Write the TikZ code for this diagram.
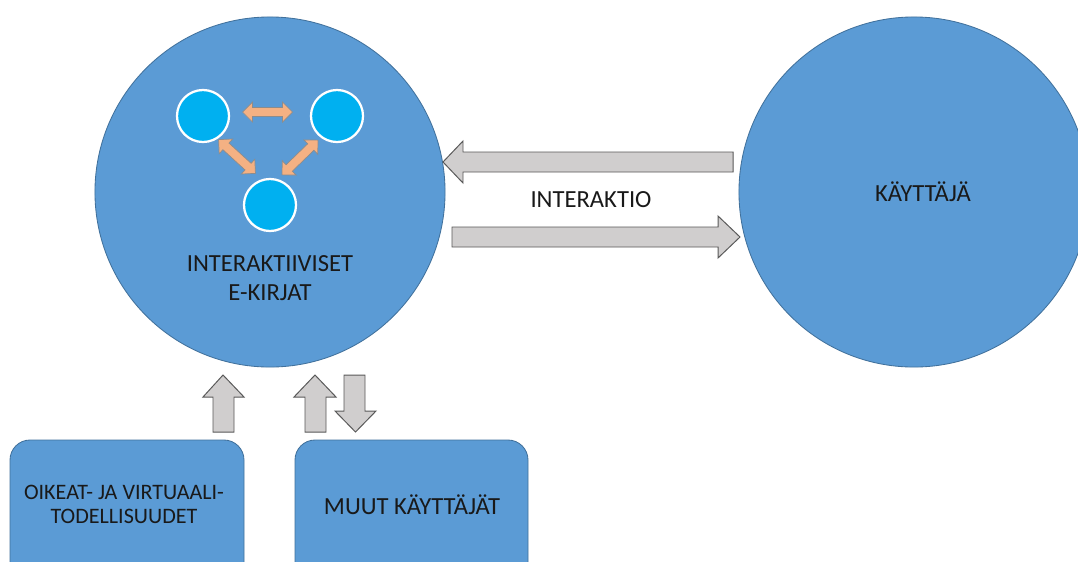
\documentclass[tikz,border=0pt]{standalone}
\usepackage{fontspec}
\setmainfont{Carlito}
\usetikzlibrary{positioning}

\definecolor{bigblue}{HTML}{5B9BD5}
\definecolor{bluebord}{HTML}{41719C}
\definecolor{smallblue}{HTML}{00B0F0}
\definecolor{grayfill}{HTML}{D0CECE}
\definecolor{graybord}{HTML}{595959}
\definecolor{orangefill}{HTML}{F4B183}
\definecolor{orangebord}{HTML}{8C8C8C}

\tikzset{
  bigcircle/.style={circle, fill=bigblue, draw=bluebord, line width=0.6pt, minimum size=8.75cm, inner sep=0pt},
  smallcircle/.style={circle, fill=smallblue, draw=white, line width=1.6pt, minimum size=1.3cm, inner sep=0pt},
  roundbox/.style={fill=bigblue, draw=bluebord, line width=0.6pt, rounded corners=0.5cm},
  blockarrow/.style={fill=grayfill, draw=graybord, line width=0.7pt},
  smallarrow/.style={fill=orangefill, draw=orangebord, line width=0.5pt},
  label/.style={font=\fontsize{17.5}{21}\selectfont, text=black!90, align=center},
  dblarrow/.pic={\draw[smallarrow] (-25,0) -- (-15,-10) -- (-15,-4.5) -- (15,-4.5) -- (15,-10) -- (25,0) -- (15,10) -- (15,4.5) -- (-15,4.5) -- (-15,10) -- cycle;}
}

\begin{document}
\begin{tikzpicture}[x=0.025cm, y=-0.025cm]
    \clip (0,0) rectangle (1078,561);
    \fill[white] (0,0) rectangle (1078,561);

    % The two big circles
    \node[bigcircle] (ebook) at (270,192) {};
    \node[bigcircle] (user) at (914,192) {};

    % Three small circles inside the e-book
    \node[smallcircle] (c1) at (203,116) {};
    \node[smallcircle] (c2) at (337,116) {};
    \node[smallcircle] (c3) at (270,205) {};

    % Orange double arrows between them
    \pic at (267.5,112) {dblarrow};
    \pic[rotate=-42.5] at (237,156.5) {dblarrow};
    \pic[rotate=44] at (300,157.5) {dblarrow};

    \node[label, font=\fontsize{17.5}{20.5}\selectfont] (ebooktext) at (270,278) {INTERAKTIIVISET\\E-KIRJAT};
    \node[label] (usertext) at (923,192) {KÄYTTÄJÄ};

    % Interaction arrows
    \draw[blockarrow] (443,162) -- (463,141) -- (463,152) -- (733,152) -- (733,172) -- (463,172) -- (463,183) -- cycle;
    \draw[blockarrow] (740,237) -- (718,216) -- (718,227) -- (452,227) -- (452,247) -- (718,247) -- (718,258) -- cycle;
    \node[label] (interaktio) at (591,200) {INTERAKTIO};

    % Vertical arrows
    \draw[blockarrow] (223,375) -- (244,397) -- (234,397) -- (234,432) -- (213,432) -- (213,397) -- (203,397) -- cycle;
    \draw[blockarrow] (315,375) -- (336,397) -- (326,397) -- (326,432) -- (305,432) -- (305,397) -- (294,397) -- cycle;
    \draw[blockarrow] (355.5,432) -- (376,411) -- (365,411) -- (365,375) -- (344,375) -- (344,411) -- (335,411) -- cycle;

    % Bottom boxes
    \draw[roundbox] (10,440) rectangle (244,610);
    \draw[roundbox] (295,440) rectangle (528,610);
    \node[label, font=\fontsize{15.7}{17}\selectfont] (realities) at (124,504) {OIKEAT- JA VIRTUAALI-\\TODELLISUUDET};
    \node[label] (others) at (412,505) {MUUT KÄYTTÄJÄT};
\end{tikzpicture}
\end{document}
